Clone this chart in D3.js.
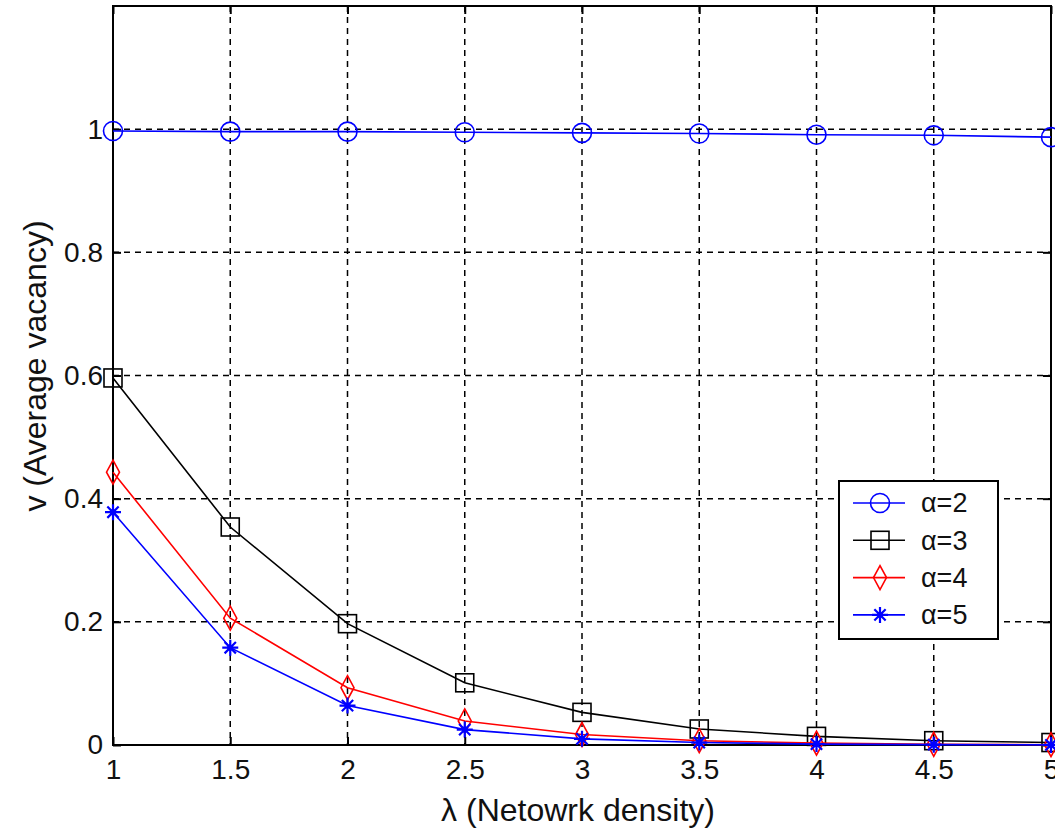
<!DOCTYPE html>
<html><head><meta charset="utf-8">
<script src="https://cdn.jsdelivr.net/npm/d3@7"></script>
<style>body{margin:0;background:#fff}svg{display:block}text{font-family:"Liberation Sans",Arial,sans-serif;fill:#111}</style>
</head><body>
<svg id="c" width="1055" height="830"></svg>
<script>
const lambda = [1, 1.5, 2, 2.5, 3, 3.5, 4, 4.5, 5];
const alpha2 = [0.997, 0.996, 0.996, 0.995, 0.994, 0.993, 0.991, 0.990, 0.987];
const alpha3 = [0.596, 0.354, 0.197, 0.101, 0.053, 0.026, 0.014, 0.007, 0.004];
const alpha4 = [0.443, 0.206, 0.093, 0.039, 0.017, 0.007, 0.003, 0.0012, 0.0005];
const alpha5 = [0.378, 0.158, 0.064, 0.025, 0.010, 0.004, 0.0015, 0.0006, 0.0002];
const xTicks = [1, 1.5, 2, 2.5, 3, 3.5, 4, 4.5, 5];
const yTicks = [0, 0.2, 0.4, 0.6, 0.8, 1];
const seriesNames = ["\u03b1=2", "\u03b1=3", "\u03b1=4", "\u03b1=5"];

const svg = d3.select("#c");
const L = 113, R = 1051, T = 6, B = 745;
const x = d3.scaleLinear().domain([1, 5]).range([L, R]);
const y = d3.scaleLinear().domain([0, 1.2]).range([B, T]);

// grid
const g = svg.append("g");
g.selectAll(".gx").data(xTicks.slice(1, -1)).enter().append("line")
  .attr("x1", d => x(d)).attr("x2", d => x(d)).attr("y1", T).attr("y2", B)
  .attr("stroke", "#000").attr("stroke-width", 1.5).attr("stroke-dasharray", "6,5");
g.selectAll(".gy").data(yTicks.slice(1)).enter().append("line")
  .attr("y1", d => y(d)).attr("y2", d => y(d)).attr("x1", L).attr("x2", R)
  .attr("stroke", "#000").attr("stroke-width", 1.5).attr("stroke-dasharray", "6,5");

// axes
const xa = svg.append("g").attr("transform", `translate(0,${B})`)
  .call(d3.axisBottom(x).tickValues(xTicks).tickSize(-8).tickPadding(14).tickFormat(d3.format("")));
const xt = svg.append("g").attr("transform", `translate(0,${T})`)
  .call(d3.axisTop(x).tickValues(xTicks).tickSize(-8).tickFormat(""));
const ya = svg.append("g").attr("transform", `translate(${L},0)`)
  .call(d3.axisLeft(y).tickValues(yTicks).tickSize(-8).tickPadding(10).tickFormat(d3.format("")));
const yr = svg.append("g").attr("transform", `translate(${R},0)`)
  .call(d3.axisRight(y).tickValues(yTicks).tickSize(-8).tickFormat(""));
[xa, xt, ya, yr].forEach(a => {
  a.select(".domain").remove();
  a.selectAll("line").attr("stroke", "#000").attr("stroke-width", 2);
  a.selectAll("text").style("font-size", "28px").attr("fill", "#111");
});
xa.selectAll("text").attr("dy", "0.71em");
svg.append("rect").attr("x", L).attr("y", T).attr("width", R - L).attr("height", B - T)
  .attr("fill", "none").attr("stroke", "#000").attr("stroke-width", 2);

// titles
svg.append("text").attr("x", 578).attr("y", 821).attr("text-anchor", "middle")
  .style("font-size", "32px").text("\u03bb (Netowrk density)");
svg.append("text").attr("transform", `translate(46,366) rotate(-90)`)
  .attr("text-anchor", "middle").style("font-size", "32px").text("v (Average vacancy)");

// markers
function marker(sel, type, color) {
  if (type === "circle") sel.append("circle").attr("r", 9.5).attr("fill", "none").attr("stroke", color).attr("stroke-width", 1.6);
  else if (type === "square") sel.append("rect").attr("x", -9).attr("y", -9).attr("width", 18).attr("height", 18).attr("fill", "none").attr("stroke", color).attr("stroke-width", 1.6);
  else if (type === "diamond") sel.append("path").attr("d", "M0,-12L6.5,0L0,12L-6.5,0Z").attr("fill", "none").attr("stroke", color).attr("stroke-width", 1.6);
  else {
    const p = [];
    for (let i = 0; i < 4; i++) { const a = i * Math.PI / 4; p.push(`M${-8*Math.cos(a)},${-8*Math.sin(a)}L${8*Math.cos(a)},${8*Math.sin(a)}`); }
    sel.append("path").attr("d", p.join("")).attr("stroke", color).attr("stroke-width", 2.2);
    sel.append("circle").attr("r", 3).attr("fill", color);
  }
}
const series = [
  {v: alpha2, c: "#0000ff", m: "circle"},
  {v: alpha3, c: "#000000", m: "square"},
  {v: alpha4, c: "#ff0000", m: "diamond"},
  {v: alpha5, c: "#0000ff", m: "star"}
];
const line = d3.line().x(d => x(d[0])).y(d => y(d[1]));
series.forEach(s => {
  const pts = lambda.map((l, i) => [l, s.v[i]]);
  svg.append("path").datum(pts).attr("d", line).attr("fill", "none").attr("stroke", s.c).attr("stroke-width", 1.6);
  svg.selectAll(null).data(pts).enter().append("g")
    .attr("transform", d => `translate(${x(d[0])},${y(d[1])})`)
    .each(function () { marker(d3.select(this), s.m, s.c); });
});

// legend
const lg = svg.append("g");
lg.append("rect").attr("x", 839).attr("y", 481).attr("width", 159).attr("height", 158)
  .attr("fill", "#fff").attr("stroke", "#000").attr("stroke-width", 2);
series.forEach((s, i) => {
  const yy = 503 + i * 37.3;
  lg.append("line").attr("x1", 853).attr("x2", 905).attr("y1", yy).attr("y2", yy).attr("stroke", s.c).attr("stroke-width", 1.6);
  const m = lg.append("g").attr("transform", `translate(880,${yy})`);
  marker(m, s.m, s.c);
  lg.append("text").attr("x", 921).attr("y", yy).attr("dy", "0.35em").style("font-size", "27px").text(seriesNames[i]);
});
</script>
</body></html>
